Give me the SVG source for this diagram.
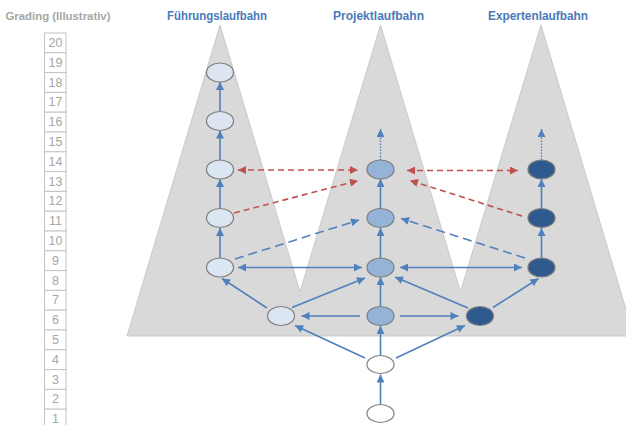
<svg xmlns="http://www.w3.org/2000/svg" width="626" height="425" viewBox="0 0 626 425">
<style>
.grade rect{fill:#fff;stroke:#c4c4c4;stroke-width:1}
.grade text{font-family:"Liberation Sans",Arial,sans-serif;font-size:12.5px;fill:#a6a6a6;text-anchor:middle}
.title{font-family:"Liberation Sans",Arial,sans-serif;font-weight:bold;text-anchor:middle}
.hd{fill:#4a7ab9;font-size:12px}
.gt{fill:#a6a6a6;font-size:11px}
.n ellipse{stroke:#7f7f7f;stroke-width:1.2}
.lt{fill:#dce6f2}
.md{fill:#95b3d7}
.dk{fill:#2e5a8e;stroke:#1f3f66}
.wh{fill:#fff}
.b{stroke:#4f81bd;stroke-width:1.6;fill:none;marker-end:url(#ab)}
.b2{marker-start:url(#ab)}
.bd{stroke-dasharray:9 5}
.dot{stroke-dasharray:1.5 1.5;stroke-width:1.4}
.r{stroke:#c0504d;stroke-width:1.6;fill:none;stroke-dasharray:6 4;marker-end:url(#ar)}
.r2{marker-start:url(#ar)}
</style>
<defs>
<marker id="ab" viewBox="0 0 10 10" refX="10" refY="5" markerWidth="9" markerHeight="8" markerUnits="userSpaceOnUse" orient="auto-start-reverse"><path d="M0,0 L10,5 L0,10 z" fill="#4f81bd"/></marker>
<marker id="ar" viewBox="0 0 10 10" refX="10" refY="5" markerWidth="9" markerHeight="8" markerUnits="userSpaceOnUse" orient="auto-start-reverse"><path d="M0,0 L10,5 L0,10 z" fill="#c0504d"/></marker>
</defs>
<rect width="626" height="425" fill="#fff"/>
<polygon points="127,336 220,25 300,291.7 380.5,25 460.5,291.7 541,25 634,336" fill="#d9d9d9" stroke="#c2c2c2" stroke-width="0.8"/>
<text class="title gt" x="58" y="20" textLength="105" lengthAdjust="spacingAndGlyphs">Grading (Illustrativ)</text>
<text class="title hd" x="217" y="20" textLength="100" lengthAdjust="spacingAndGlyphs">Führungslaufbahn</text>
<text class="title hd" x="378.5" y="20" textLength="91" lengthAdjust="spacingAndGlyphs">Projektlaufbahn</text>
<text class="title hd" x="538" y="20" textLength="100" lengthAdjust="spacingAndGlyphs">Expertenlaufbahn</text>
<g class="grade" id="grading">
<rect x="44.5" y="33" width="21.5" height="19.8"/><text x="55.5" y="47">20</text>
<rect x="44.5" y="52.8" width="21.5" height="19.8"/><text x="55.5" y="66.8">19</text>
<rect x="44.5" y="72.6" width="21.5" height="19.8"/><text x="55.5" y="86.6">18</text>
<rect x="44.5" y="92.4" width="21.5" height="19.8"/><text x="55.5" y="106.4">17</text>
<rect x="44.5" y="112.2" width="21.5" height="19.8"/><text x="55.5" y="126.2">16</text>
<rect x="44.5" y="132" width="21.5" height="19.8"/><text x="55.5" y="146">15</text>
<rect x="44.5" y="151.8" width="21.5" height="19.8"/><text x="55.5" y="165.8">14</text>
<rect x="44.5" y="171.6" width="21.5" height="19.8"/><text x="55.5" y="185.6">13</text>
<rect x="44.5" y="191.4" width="21.5" height="19.8"/><text x="55.5" y="205.4">12</text>
<rect x="44.5" y="211.2" width="21.5" height="19.8"/><text x="55.5" y="225.2">11</text>
<rect x="44.5" y="231" width="21.5" height="19.8"/><text x="55.5" y="245">10</text>
<rect x="44.5" y="250.8" width="21.5" height="19.8"/><text x="55.5" y="264.8">9</text>
<rect x="44.5" y="270.6" width="21.5" height="19.8"/><text x="55.5" y="284.6">8</text>
<rect x="44.5" y="290.4" width="21.5" height="19.8"/><text x="55.5" y="304.4">7</text>
<rect x="44.5" y="310.2" width="21.5" height="19.8"/><text x="55.5" y="324.2">6</text>
<rect x="44.5" y="330" width="21.5" height="19.8"/><text x="55.5" y="344">5</text>
<rect x="44.5" y="349.8" width="21.5" height="19.8"/><text x="55.5" y="363.8">4</text>
<rect x="44.5" y="369.6" width="21.5" height="19.8"/><text x="55.5" y="383.6">3</text>
<rect x="44.5" y="389.4" width="21.5" height="19.8"/><text x="55.5" y="403.4">2</text>
<rect x="44.5" y="409.2" width="21.5" height="19.8"/><text x="55.5" y="423.2">1</text>
</g>
<g id="connectors">
<path class="b" d="M220,258 L220,228"/>
<path class="b" d="M220,209 L220,179"/>
<path class="b" d="M220,160 L220,130.5"/>
<path class="b" d="M220,111.5 L220,82"/>
<path class="b" d="M380.5,258 L380.5,228"/>
<path class="b" d="M380.5,209 L380.5,179"/>
<path class="b dot" d="M380.5,160 L380.5,129"/>
<path class="b" d="M541.5,258 L541.5,228"/>
<path class="b" d="M541.5,209 L541.5,179"/>
<path class="b dot" d="M541.5,160 L541.5,129"/>
<path class="b b2" d="M238,267.5 L362,267.5"/>
<path class="b b2" d="M400,267.5 L522,267.5"/>
<path class="b" d="M267,308 L222,278.5"/>
<path class="b" d="M292,307.5 L365,278"/>
<path class="b" d="M380.5,306 L380.5,277"/>
<path class="b" d="M468,308 L395,277"/>
<path class="b" d="M493,307.5 L538.5,278.5"/>
<path class="b" d="M360,316 L301.5,316"/>
<path class="b" d="M400,316 L458.5,316"/>
<path class="b" d="M380.5,404 L380.5,374.5"/>
<path class="b" d="M380.5,355 L380.5,326"/>
<path class="b" d="M365,358 L295,325.5"/>
<path class="b" d="M396,358 L465,325.5"/>
<path class="b bd" d="M235,259 L359,220"/>
<path class="b bd" d="M525,258 L401,218.5"/>
<path class="r r2" d="M238,170 L358,170"/>
<path class="r r2" d="M407,170.5 L518,170.5"/>
<path class="r" d="M234,213 L358,180.7"/>
<path class="r" d="M522,216 L410,180.5"/>
</g>
<g class="n" id="f1"><ellipse class="lt" cx="220" cy="72.5" rx="13.5" ry="9.5"/></g>
<g class="n" id="f2"><ellipse class="lt" cx="220" cy="121" rx="13.5" ry="9.5"/></g>
<g class="n" id="f3"><ellipse class="lt" cx="220" cy="169.5" rx="13.5" ry="9.5"/></g>
<g class="n" id="f4"><ellipse class="lt" cx="220" cy="218" rx="13.5" ry="9.5"/></g>
<g class="n" id="f5"><ellipse class="lt" cx="220" cy="267.5" rx="13.5" ry="9.5"/></g>
<g class="n" id="f6"><ellipse class="lt" cx="281" cy="316" rx="13.5" ry="9.5"/></g>
<g class="n" id="p3"><ellipse class="md" cx="380.5" cy="169.5" rx="13.5" ry="9.5"/></g>
<g class="n" id="p4"><ellipse class="md" cx="380.5" cy="218" rx="13.5" ry="9.5"/></g>
<g class="n" id="p5"><ellipse class="md" cx="380.5" cy="267.5" rx="13.5" ry="9.5"/></g>
<g class="n" id="p6"><ellipse class="md" cx="380.5" cy="316" rx="13.5" ry="9.5"/></g>
<g class="n" id="e3"><ellipse class="dk" cx="541.5" cy="169.5" rx="13.5" ry="9.5"/></g>
<g class="n" id="e4"><ellipse class="dk" cx="541.5" cy="218" rx="13.5" ry="9.5"/></g>
<g class="n" id="e5"><ellipse class="dk" cx="541.5" cy="267.5" rx="13.5" ry="9.5"/></g>
<g class="n" id="e6"><ellipse class="dk" cx="480" cy="316" rx="13.5" ry="9.5"/></g>
<g class="n" id="w1"><ellipse class="wh" cx="380.5" cy="364.5" rx="13.5" ry="9"/></g>
<g class="n" id="w2"><ellipse class="wh" cx="380.5" cy="413.5" rx="13.5" ry="9"/></g>
</svg>
